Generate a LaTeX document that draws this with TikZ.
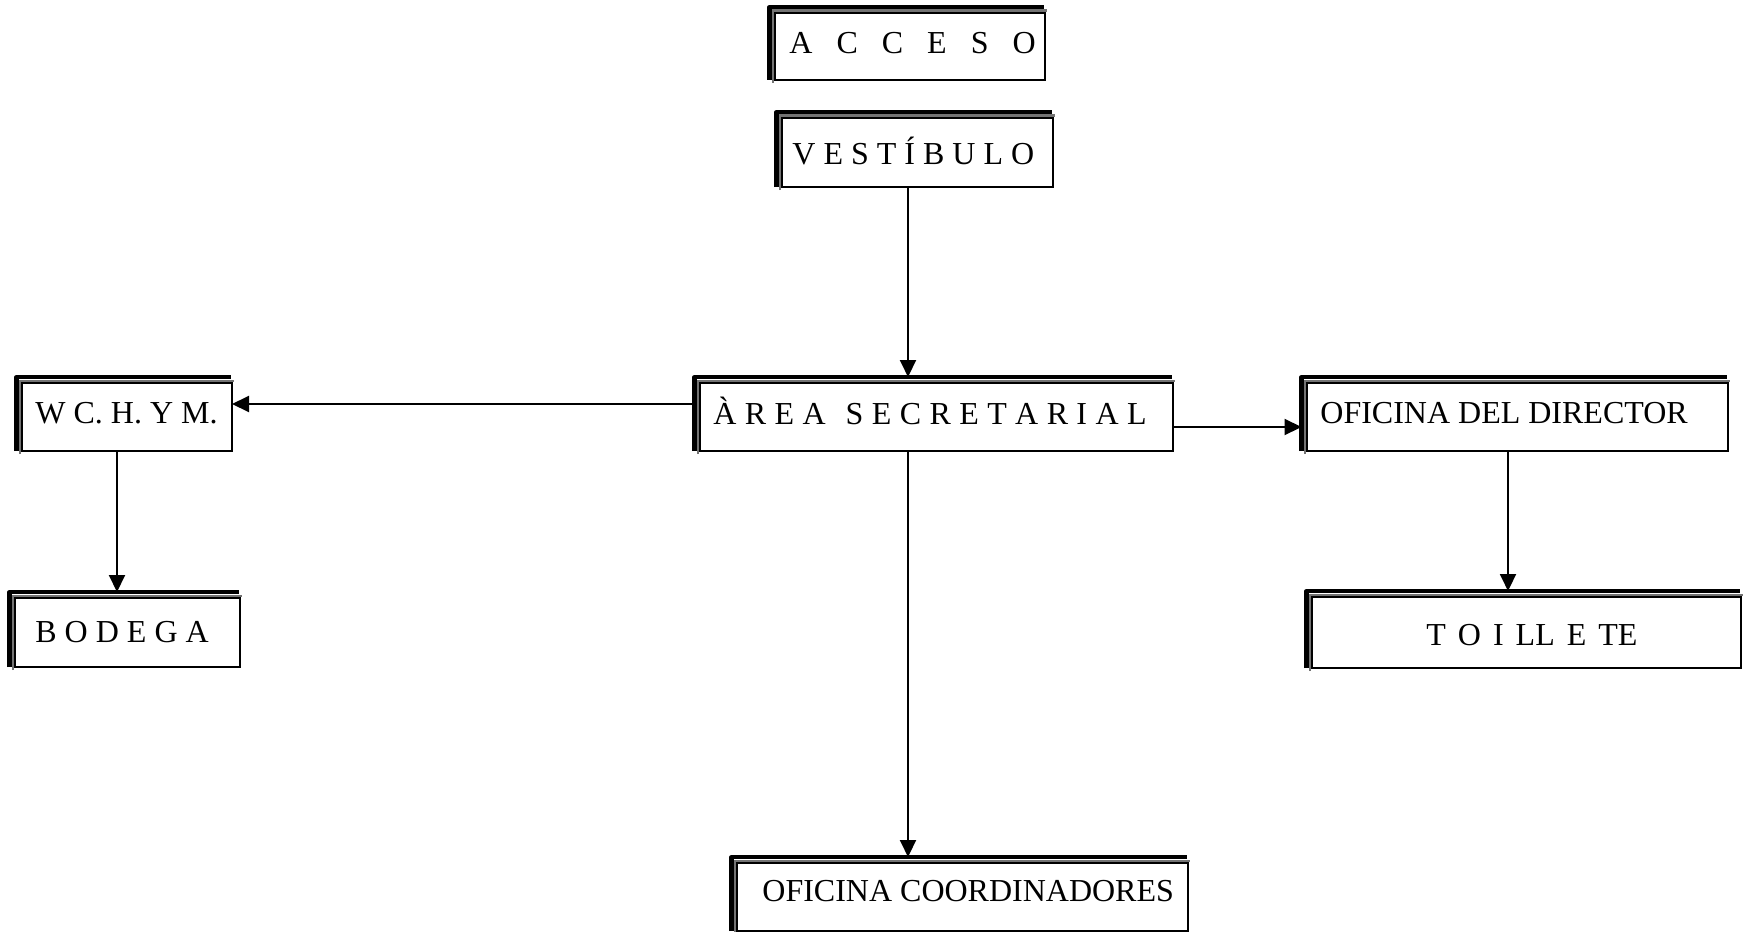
\documentclass[tikz,border=0pt]{standalone}
\usepackage{fontspec}
\setmainfont{Liberation Serif}
\usetikzlibrary{arrows.meta}

% spacing used in the letter-spaced titles
\newcommand\accgap{\hspace{12pt}}
\newcommand\argap{\hspace{4.2pt}}
\newcommand\arword{\hspace{10pt}}
\newcommand\toigap{\hspace{6pt}}

\tikzset{
  roomframe/.style={draw=black, line width=0.9pt, fill=white, inner sep=0pt, outer sep=0pt},
  shadowdark/.style={draw=black, line width=2.1pt, line join=round},
  shadowlight/.style={draw=black!55, line width=1.3pt},
  roomtext/.style={anchor=base west, inner sep=0pt, font=\fontsize{16pt}{19pt}\selectfont},
  conn/.style={draw=black, line width=1pt, -{Triangle[length=8.5pt,width=8pt]}},
}

% #1 name, #2 left, #3 top, #4 right, #5 bottom, #6 text x, #7 text baseline, #8 text
\newcommand\roombox[8]{%
  \draw[shadowlight] ({#2-2.2},{#5+3}) -- ({#2-2.2},{#3-2.2}) -- ({#4+2},{#3-2.2});
  \draw[shadowdark] ({#2-5.5},{#5}) -- ({#2-5.5},{#3-6}) -- ({#4-1},{#3-6});
  \node[roomframe, anchor=north west,
        minimum width={0.5pt*(#4-#2)}, minimum height={0.5pt*(#5-#3)}] (#1) at (#2,#3) {};
  \coordinate (#1-shtop) at (#2,{#3-6});
  \coordinate (#1-shleft) at ({#2-5.5},#3);
  \node[roomtext] (#1-label) at (#6,#7) {#8};
}

\begin{document}
\begin{tikzpicture}[x=0.5pt, y=-0.5pt]
  \useasboundingbox (0,0) rectangle (1743,931);

  \roombox{acceso}{775}{13}{1045}{80}{789}{54}%
    {A\accgap C\accgap C\accgap E\accgap S\accgap O}
  \roombox{vest}{782}{118}{1053}{187}{792}{164}{V E S T Í B U L O}
  \roombox{area}{700}{383}{1173}{451}{713}{424}%
    {À\argap R\argap E\argap A\arword S\argap E\argap C\argap R\argap E\argap T\argap A\argap R\argap I\argap A\argap L}
  \roombox{wc}{22}{383}{232}{451}{35}{423}{W C. H. Y M.}
  \roombox{bodega}{15}{598}{240}{667}{35}{642}{B O D E G A}
  \roombox{director}{1307}{383}{1728}{451}{1320}{423}{OFICINA DEL DIRECTOR}
  \roombox{toillete}{1312}{597}{1741}{668}{1426}{645}%
    {T\toigap O\toigap I\toigap LL\toigap E\toigap TE}
  \roombox{coord}{737}{863}{1188}{931}{762}{901}{OFICINA COORDINADORES}

  % guide lines for the connectors
  \coordinate (colmid) at (908,0);
  \coordinate (colleft) at (117,0);
  \coordinate (colright) at (1508,0);
  \coordinate (rowwc) at (0,404);
  \coordinate (rowdir) at (0,427);

  \draw[conn] (vest.south -| colmid) -- (area-shtop -| colmid);
  \draw[conn] (area-shleft |- rowwc) -- (wc.east |- rowwc);
  \draw[conn] (wc.south -| colleft) -- (bodega-shtop -| colleft);
  \draw[conn] (area.east |- rowdir) -- (director-shleft |- rowdir);
  \draw[conn] (director.south -| colright) -- (toillete-shtop -| colright);
  \draw[conn] (area.south -| colmid) -- (coord-shtop -| colmid);
\end{tikzpicture}
\end{document}
